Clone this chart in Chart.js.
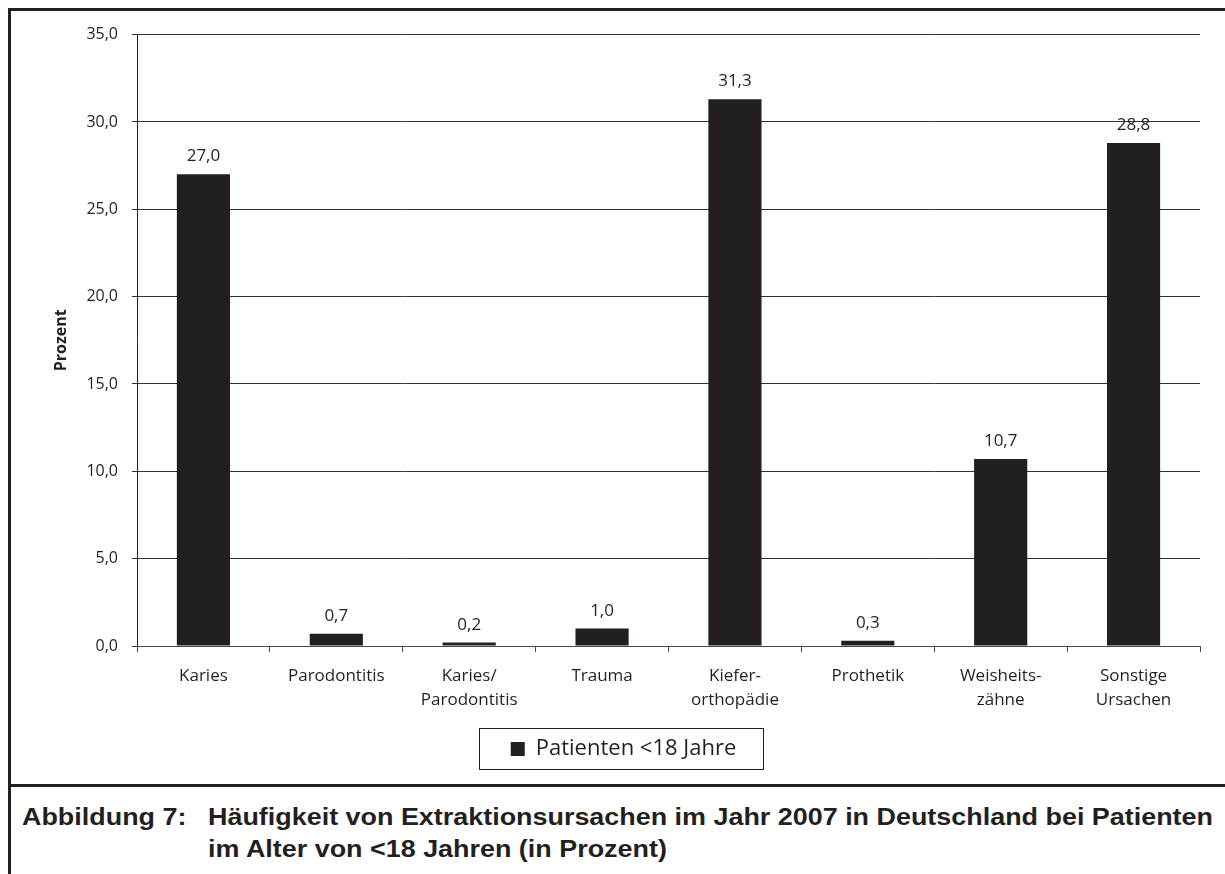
<!DOCTYPE html>
<html lang="de">
<head>
<meta charset="utf-8">
<title>Extraktionsursachen 2007</title>
<script src="https://cdn.jsdelivr.net/npm/chart.js@4.4.1/dist/chart.umd.min.js"></script>
<style>
    html, body {
        margin: 0;
        padding: 0;
        background: #ffffff;
        overflow: hidden;
        width: 1225px;
        height: 874px;
    }
    .frame {
        position: absolute;
        left: 8px;
        top: 8px;
        width: 1214px;
        height: 866px;
        border-left: 3px solid #231f20;
        border-top: 3px solid #231f20;
    }
    .divider {
        position: absolute;
        left: 8px;
        top: 784px;
        width: 1217px;
        height: 3px;
        background: #231f20;
    }
    .chart-box {
        position: absolute;
        left: 11px;
        top: 11px;
        width: 1214px;
        height: 773px;
    }
    .caption {
        position: absolute;
        left: 22px;
        top: 802px;
        font-family: "Liberation Sans", Arial, sans-serif;
        font-weight: bold;
        font-size: 23px;
        line-height: 31.5px;
        color: #231f20;
        white-space: nowrap;
        transform: scaleX(1.17);
        transform-origin: left top;
    }
    .caption .num {
        position: absolute;
        left: 0;
        top: 0;
    }
    .caption .text {
        position: absolute;
        left: 159px;
        top: 0;
    }
</style>
</head>
<body>
<div class="frame"></div>
<div class="divider"></div>
<div class="chart-box"><canvas id="extractionChart"></canvas></div>
<div class="caption">
    <span class="num">Abbildung 7:</span>
    <span class="text">Häufigkeit von Extraktionsursachen im Jahr 2007 in Deutschland bei Patienten<br>im Alter von &lt;18 Jahren (in Prozent)</span>
</div>

<script>
const categories = [
    'Karies',
    'Parodontitis',
    ['Karies/', 'Parodontitis'],
    'Trauma',
    ['Kiefer-', 'orthopädie'],
    'Prothetik',
    ['Weisheits-', 'zähne'],
    ['Sonstige', 'Ursachen']
];
const patientsUnder18 = [27.0, 0.7, 0.2, 1.0, 31.3, 0.3, 10.7, 28.8];
const yTicks = [0, 5, 10, 15, 20, 25, 30, 35];
const seriesLabel = 'Patienten <18 Jahre';
const axisTitle = 'Prozent';

const ink = '#231f20';
// horizontal centre of the legend row inside the canvas
const legendCentreX = 612.5;

function formatDe(v) {
    return Number(v).toFixed(1).replace('.', ',');
}

// Values written above each bar
const barValueLabels = {
    id: 'barValueLabels',
    afterDatasetsDraw(chart) {
        const ctx = chart.ctx;
        const meta = chart.getDatasetMeta(0);
        const values = chart.data.datasets[0].data;
        ctx.save();
        ctx.font = '17px "Open Sans", sans-serif';
        ctx.fillStyle = ink;
        ctx.textAlign = 'center';
        ctx.textBaseline = 'alphabetic';
        meta.data.forEach((bar, i) => {
            ctx.fillText(formatDe(values[i]), bar.x, bar.y - 13);
        });
        ctx.restore();
    }
};

// Move the legend row so it is centred under the whole figure
const legendCentre = {
    id: 'legendCentre',
    afterLayout(chart) {
        const legend = chart.legend;
        if (!legend) return;
        const shift = legendCentreX - (legend.left + legend.right) / 2;
        legend.left += shift;
        legend.right += shift;
    }
};

// Thin frame around the legend entry
const legendFrame = {
    id: 'legendFrame',
    afterDraw(chart) {
        const legend = chart.legend;
        if (!legend || !legend.legendHitBoxes.length) return;
        const hb = legend.legendHitBoxes[0];
        const ctx = chart.ctx;
        const left = Math.round(hb.left - 32) + 0.5;
        const right = Math.round(hb.left + hb.width + 27) + 0.5;
        const top = Math.round(legend.top) + 0.5;
        const bottom = Math.round(legend.top + legend.height) - 0.5;
        ctx.save();
        ctx.strokeStyle = ink;
        ctx.lineWidth = 1;
        ctx.strokeRect(left, top, right - left, bottom - top);
        ctx.restore();
    }
};

new Chart(document.getElementById('extractionChart'), {
    type: 'bar',
    data: {
        labels: categories,
        datasets: [{
            label: seriesLabel,
            data: patientsUnder18,
            backgroundColor: ink,
            borderWidth: 0,
            barPercentage: 0.4,
            categoryPercentage: 1.0
        }]
    },
    options: {
        responsive: true,
        maintainAspectRatio: false,
        animation: false,
        layout: {
            padding: { left: 0, right: 25, top: 20, bottom: 14 }
        },
        scales: {
            x: {
                grid: {
                    display: true,
                    drawOnChartArea: false,
                    drawTicks: true,
                    tickLength: 6,
                    color: '#4a4a4a'
                },
                border: { display: true, color: '#4a4a4a', width: 1 },
                ticks: {
                    color: ink,
                    padding: 12,
                    maxRotation: 0,
                    autoSkip: false,
                    font: { family: '"Open Sans", sans-serif', size: 17, lineHeight: 1.42 }
                },
                afterFit(scale) {
                    scale.height = 82;
                }
            },
            y: {
                min: 0,
                max: 35,
                afterBuildTicks(scale) {
                    scale.ticks = yTicks.map(v => ({ value: v }));
                },
                grid: {
                    color: '#333333',
                    lineWidth: 1,
                    tickLength: 5,
                    drawTicks: true
                },
                border: { display: true, color: ink, width: 1 },
                ticks: {
                    color: ink,
                    padding: 14,
                    font: { family: '"Open Sans", sans-serif', size: 16 },
                    callback: v => formatDe(v)
                },
                title: {
                    display: true,
                    text: axisTitle,
                    color: ink,
                    padding: { top: 41, bottom: 0 },
                    font: { family: '"Open Sans", sans-serif', size: 16, weight: 'bold' }
                },
                afterFit(scale) {
                    scale.width = 126;
                }
            }
        },
        plugins: {
            legend: {
                display: true,
                position: 'bottom',
                labels: {
                    color: ink,
                    boxWidth: 14,
                    boxHeight: 14,
                    padding: 10,
                    font: { family: '"Open Sans", sans-serif', size: 22 }
                }
            },
            tooltip: { enabled: false }
        }
    },
    plugins: [legendCentre, barValueLabels, legendFrame]
});
</script>
</body>
</html>
